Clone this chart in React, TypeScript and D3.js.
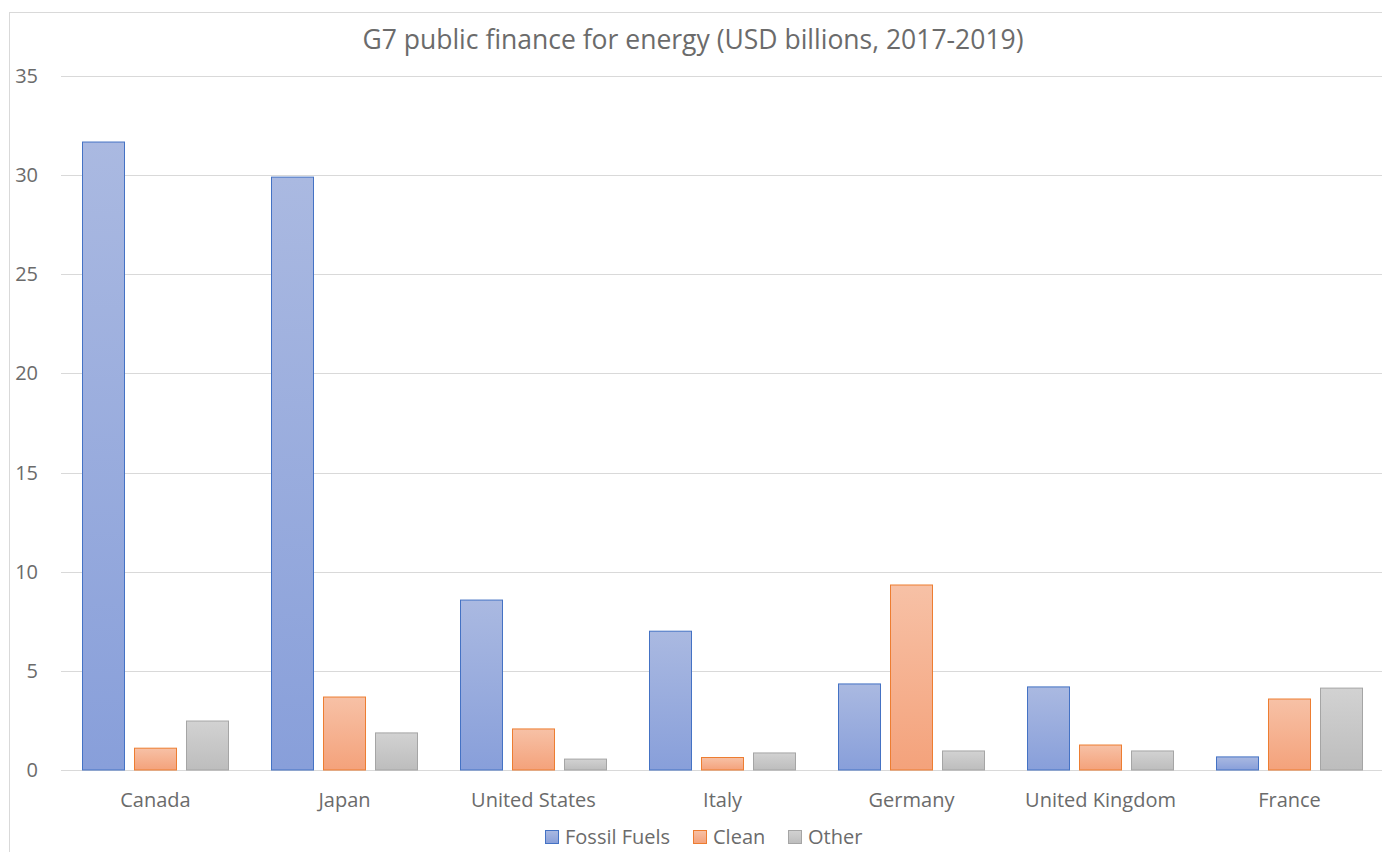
import React, { useEffect, useRef } from 'react';
import * as d3 from 'd3';

const countries = ['Canada', 'Japan', 'United States', 'Italy', 'Germany', 'United Kingdom', 'France'];
const seriesNames = ['Fossil Fuels', 'Clean', 'Other'];
const fossil = [31.67, 29.9, 8.57, 7.0, 4.34, 4.19, 0.66];
const clean = [1.1, 3.68, 2.07, 0.63, 9.33, 1.26, 3.58];
const other = [2.47, 1.87, 0.55, 0.86, 0.96, 0.96, 4.13];
const yTicks = [0, 5, 10, 15, 20, 25, 30, 35];

const seriesValues = [fossil, clean, other];
const fills = [
  { top: '#AAB9E1', bottom: '#889FDA', stroke: '#4472C4' },
  { top: '#F7C1A6', bottom: '#F4A27B', stroke: '#ED7D31' },
  { top: '#D2D2D2', bottom: '#BDBDBD', stroke: '#A5A5A5' },
];

const FONT = '"Open Sans", "Noto Sans", sans-serif';
const TEXT = '#6B6B6B';

const App: React.FC = () => {
  const svgRef = useRef<SVGSVGElement>(null);

  useEffect(() => {
    if (!svgRef.current) return;
    const svg = d3.select(svgRef.current);
    svg.selectAll('*').remove();

    const W = 1382, H = 852;
    svg.attr('width', W).attr('height', H);

    // gradients
    const defs = svg.append('defs');
    fills.forEach((f, i) => {
      const g = defs.append('linearGradient')
        .attr('id', `grad${i}`)
        .attr('x1', 0).attr('y1', 0).attr('x2', 0).attr('y2', 1);
      g.append('stop').attr('offset', '0%').attr('stop-color', f.top);
      g.append('stop').attr('offset', '100%').attr('stop-color', f.bottom);
    });

    // chart border
    svg.append('rect')
      .attr('x', 9.5).attr('y', 12.5)
      .attr('width', W + 20).attr('height', H + 20)
      .attr('fill', 'none').attr('stroke', '#D9D9D9');

    const x = d3.scaleBand().domain(countries).range([61, 1384]).padding(0);
    const xInner = d3.scaleBand().domain(seriesNames).range([21, 168]).paddingInner(9 / 52);
    const y = d3.scaleLinear().domain([0, 35]).range([770, 76]);

    // gridlines
    svg.append('g')
      .selectAll('line')
      .data(yTicks)
      .enter()
      .append('line')
      .attr('x1', 61).attr('x2', W)
      .attr('y1', d => Math.round(y(d)) + 0.5)
      .attr('y2', d => Math.round(y(d)) + 0.5)
      .attr('stroke', '#D9D9D9')
      .attr('stroke-width', 1.2);

    // y tick labels
    svg.append('g')
      .selectAll('text')
      .data(yTicks)
      .enter()
      .append('text')
      .attr('x', 38)
      .attr('y', d => y(d))
      .attr('dy', '0.35em')
      .attr('text-anchor', 'end')
      .style('font-family', FONT)
      .style('font-size', '20px')
      .style('fill', TEXT)
      .text(d => d);

    // bars
    seriesNames.forEach((s, si) => {
      svg.append('g')
        .selectAll('rect')
        .data(seriesValues[si].map((v, i) => ({ c: countries[i], v })))
        .enter()
        .append('rect')
        .attr('x', d => x(d.c)! + xInner(s)! + 0.5)
        .attr('y', d => y(d.v))
        .attr('width', xInner.bandwidth() - 1)
        .attr('height', d => y(0) - y(d.v))
        .attr('fill', `url(#grad${si})`)
        .attr('stroke', fills[si].stroke)
        .attr('stroke-width', 1);
    });

    // category labels
    svg.append('g')
      .selectAll('text')
      .data(countries)
      .enter()
      .append('text')
      .attr('x', d => x(d)! + x.bandwidth() / 2)
      .attr('y', 800)
      .attr('dy', '0.35em')
      .attr('text-anchor', 'middle')
      .style('font-family', FONT)
      .style('font-size', '20px')
      .style('fill', TEXT)
      .text(d => d);

    // title
    svg.append('text')
      .attr('x', 693)
      .attr('y', 40)
      .attr('dy', '0.35em')
      .attr('text-anchor', 'middle')
      .style('font-family', FONT)
      .style('font-size', '26.5px')
      .style('fill', TEXT)
      .text('G7 public finance for energy (USD billions, 2017-2019)');

    // legend
    const legendX = [545, 693, 788];
    const legend = svg.append('g');
    seriesNames.forEach((s, i) => {
      legend.append('rect')
        .attr('x', legendX[i] + 0.5).attr('y', 830.5)
        .attr('width', 13).attr('height', 13)
        .attr('fill', `url(#grad${i})`)
        .attr('stroke', fills[i].stroke);
      legend.append('text')
        .attr('x', legendX[i] + 20)
        .attr('y', 837)
        .attr('dy', '0.35em')
        .style('font-family', FONT)
        .style('font-size', '20px')
        .style('fill', TEXT)
        .text(s);
    });
  }, []);

  return (
    <div style={{ position: 'absolute', left: 0, top: 0 }}>
      <svg ref={svgRef} style={{ display: 'block' }}></svg>
    </div>
  );
};

export default App;
